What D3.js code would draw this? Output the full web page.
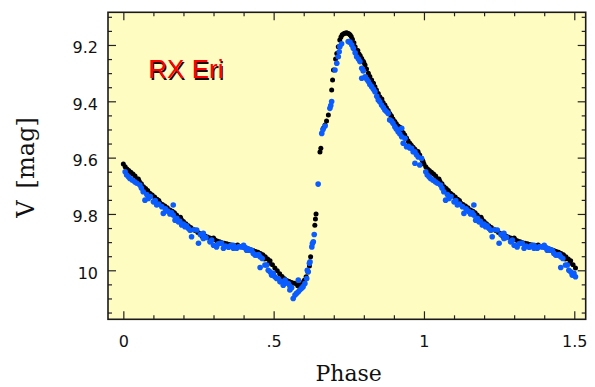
<!DOCTYPE html>
<html><head><meta charset="utf-8">
<script src="https://cdn.jsdelivr.net/npm/d3@7"></script>
<style>body{margin:0;background:#fff}</style>
</head><body><svg id="c" width="595" height="387"></svg>
<script>
// Black series (phase 0..1)
const blackPhase=[0.000,0.006,0.012,0.018,0.025,0.032,0.039,0.046,0.053,0.060,0.067,0.074,0.081,0.089,0.096,0.104,0.112,0.122,0.130,0.138,0.146,0.155,0.163,0.170,0.177,0.185,0.193,0.200,0.208,0.216,0.224,0.232,0.240,0.248,0.256,0.264,0.272,0.280,0.288,0.296,0.304,0.312,0.320,0.328,0.336,0.344,0.352,0.360,0.368,0.376,0.384,0.392,0.400,0.408,0.416,0.424,0.432,0.440,0.448,0.456,0.464,0.472,0.480,0.488,0.496,0.504,0.512,0.520,0.528,0.536,0.544,0.552,0.560,0.568,0.576,0.584,0.590,0.596,0.602,0.608,0.614,0.619,0.623,0.637,0.639,0.641,0.654,0.657,0.665,0.671,0.676,0.682,0.693,0.696,0.699,0.706,0.710,0.715,0.720,0.724,0.728,0.733,0.737,0.742,0.746,0.750,0.754,0.758,0.762,0.767,0.771,0.775,0.779,0.784,0.788,0.793,0.798,0.804,0.809,0.815,0.820,0.826,0.832,0.837,0.842,0.848,0.853,0.859,0.864,0.870,0.875,0.881,0.886,0.892,0.897,0.903,0.908,0.914,0.920,0.925,0.931,0.936,0.942,0.947,0.953,0.958,0.964,0.970,0.975,0.981,0.986,0.992,0.997,
0.020,0.050,0.085,0.118,0.150,0.190,0.228,0.262,0.300,0.340,0.380,0.420,0.452,0.470,0.485,0.545,0.580,0.600,0.780,0.800,0.830,0.860,0.890,0.920,0.950,0.980,0.995];
const blackMag=[9.623,9.632,9.640,9.646,9.652,9.658,9.665,9.676,9.684,9.693,9.703,9.710,9.717,9.727,9.733,9.740,9.748,9.761,9.766,9.772,9.778,9.786,9.790,9.796,9.804,9.812,9.820,9.827,9.835,9.842,9.848,9.854,9.860,9.866,9.870,9.874,9.878,9.882,9.885,9.889,9.892,9.896,9.899,9.902,9.904,9.906,9.908,9.910,9.912,9.913,9.915,9.916,9.918,9.921,9.924,9.927,9.930,9.933,9.936,9.940,9.945,9.952,9.960,9.966,9.980,9.992,10.002,10.012,10.022,10.030,10.036,10.040,10.043,10.046,10.048,10.051,10.053,10.048,10.035,10.023,10.006,9.985,9.952,9.840,9.818,9.800,9.580,9.567,9.496,9.484,9.470,9.449,9.360,9.324,9.289,9.250,9.230,9.206,9.182,9.172,9.164,9.160,9.158,9.157,9.158,9.160,9.164,9.170,9.180,9.192,9.206,9.218,9.226,9.232,9.238,9.248,9.258,9.271,9.285,9.300,9.312,9.324,9.336,9.348,9.360,9.372,9.384,9.395,9.404,9.413,9.423,9.433,9.443,9.453,9.463,9.472,9.480,9.488,9.496,9.504,9.512,9.520,9.530,9.540,9.549,9.556,9.563,9.570,9.577,9.584,9.591,9.602,9.614,
9.655,9.676,9.726,9.752,9.789,9.812,9.856,9.879,9.885,9.910,9.910,9.930,9.945,9.960,9.975,10.040,10.055,10.040,9.220,9.262,9.335,9.392,9.450,9.492,9.548,9.578,9.610];

// Blue series (phase 0..1)
const bluePhase=[0.006,0.011,0.017,0.022,0.030,0.038,0.045,0.055,0.060,0.066,0.072,0.078,0.083,0.090,0.100,0.106,0.111,0.118,0.128,0.133,0.140,0.148,0.155,0.160,0.166,0.166,0.172,0.178,0.183,0.188,0.194,0.200,0.205,0.210,0.216,0.222,0.227,0.235,0.244,0.250,0.256,0.266,0.266,0.275,0.288,0.294,0.300,0.310,0.316,0.322,0.327,0.333,0.340,0.350,0.357,0.366,0.366,0.372,0.377,0.385,0.394,0.400,0.405,0.410,0.410,0.416,0.421,0.427,0.432,0.438,0.444,0.450,0.455,0.455,0.462,0.471,0.477,0.482,0.488,0.493,0.499,0.504,0.510,0.516,0.521,0.527,0.532,0.538,0.543,0.549,0.554,0.554,0.560,0.565,0.571,0.576,0.582,0.582,0.587,0.593,0.598,0.604,0.610,0.612,0.615,0.619,0.621,0.627,0.629,0.632,0.635,0.648,0.660,0.664,0.671,0.687,0.690,0.693,0.704,0.710,0.715,0.718,0.720,0.726,0.748,0.754,0.760,0.765,0.771,0.776,0.782,0.787,0.793,0.793,0.798,0.804,0.810,0.815,0.820,0.826,0.832,0.837,0.843,0.848,0.853,0.859,0.865,0.870,0.876,0.881,0.886,0.892,0.897,0.903,0.908,0.914,0.920,0.926,0.926,0.931,0.937,0.942,0.948,0.953,0.959,0.964,0.970,0.970,0.975,0.981,0.986,0.992];
const blueMag=[9.650,9.662,9.668,9.674,9.680,9.686,9.691,9.697,9.708,9.721,9.751,9.731,9.745,9.738,9.757,9.752,9.768,9.765,9.774,9.798,9.782,9.790,9.800,9.795,9.768,9.804,9.822,9.815,9.828,9.826,9.839,9.836,9.845,9.842,9.851,9.858,9.881,9.856,9.857,9.904,9.873,9.887,9.869,9.884,9.899,9.893,9.911,9.917,9.906,9.904,9.904,9.922,9.914,9.918,9.912,9.911,9.922,9.918,9.922,9.916,9.917,9.911,9.920,9.922,9.929,9.925,9.929,9.929,9.940,9.946,9.946,9.944,9.952,9.990,9.958,9.981,9.981,10.000,10.005,10.017,10.011,10.023,10.029,10.030,10.041,10.041,10.053,10.035,10.045,10.047,10.056,10.070,10.062,10.100,10.088,10.082,10.076,10.035,10.070,10.064,10.058,10.047,10.029,10.000,10.005,9.975,9.970,9.917,9.905,9.899,9.873,9.694,9.514,9.500,9.488,9.425,9.415,9.401,9.289,9.265,9.242,9.224,9.206,9.196,9.188,9.190,9.200,9.212,9.228,9.242,9.250,9.259,9.283,9.318,9.292,9.313,9.322,9.330,9.340,9.348,9.357,9.366,9.382,9.395,9.402,9.413,9.422,9.431,9.437,9.443,9.466,9.470,9.478,9.490,9.498,9.508,9.516,9.526,9.496,9.549,9.531,9.561,9.560,9.566,9.567,9.579,9.579,9.620,9.590,9.598,9.626,9.603];

const xMajorTicks=[0,0.5,1,1.5];
const xMajorLabels=["0",".5","1","1.5"];
const xMinorTicks=[0.1,0.2,0.3,0.4,0.6,0.7,0.8,0.9,1.1,1.2,1.3,1.4];
const yMajorTicks=[9.2,9.4,9.6,9.8,10];
const yMajorLabels=["9.2","9.4","9.6","9.8","10"];
const yMinorTicks=[9.1,9.15,9.25,9.3,9.35,9.45,9.5,9.55,9.65,9.7,9.75,9.85,9.9,9.95,10.05,10.1,10.15];
const xDomain=[-0.051,1.538];
const yDomain=[9.084,10.174];
const titleText="RX Eri";
const xLabel="Phase";
const yLabelParts=["V","[mag]"];

const L=108,R=585.7,T=12.3,B=319.3;
const svg=d3.select("#c");
const x=d3.scaleLinear().domain(xDomain).range([L,R]);
const y=d3.scaleLinear().domain(yDomain).range([T,B]);

svg.append("rect").attr("x",L).attr("y",T).attr("width",R-L).attr("height",B-T).attr("fill","#fffcc2");

// fold: show phases 0..1.5
function expand(ph,mg){const out=[];ph.forEach((p,i)=>{out.push([p,mg[i]]);if(p+1<=1.505)out.push([p+1,mg[i]]);});return out;}
const blackPts=expand(blackPhase,blackMag);
const bluePts=expand(bluePhase,blueMag);

svg.append("g").selectAll("circle").data(blackPts).join("circle")
  .attr("cx",d=>x(d[0])).attr("cy",d=>y(d[1])).attr("r",2.5).attr("fill","#000");
svg.append("g").selectAll("circle").data(bluePts).join("circle")
  .attr("cx",d=>x(d[0])).attr("cy",d=>y(d[1])).attr("r",2.8).attr("fill","#0a5cff");

function styleAxis(g){g.select(".domain").remove();g.selectAll(".tick line").attr("stroke","#222").attr("stroke-width",1.2);}
// bottom
svg.append("g").attr("transform",`translate(0,${B})`)
  .call(d3.axisBottom(x).tickValues(xMajorTicks).tickSize(-8).tickPadding(16).tickFormat((d,i)=>xMajorLabels[i]))
  .call(styleAxis).call(g=>g.selectAll("text").attr("font-family","DejaVu Sans").attr("font-size",16).attr("fill","#111"));
svg.append("g").attr("transform",`translate(0,${B})`)
  .call(d3.axisBottom(x).tickValues(xMinorTicks).tickSize(-4).tickFormat(""))
  .call(styleAxis);
// top
svg.append("g").attr("transform",`translate(0,${T})`)
  .call(d3.axisTop(x).tickValues(xMajorTicks).tickSize(-8).tickFormat("")).call(styleAxis);
svg.append("g").attr("transform",`translate(0,${T})`)
  .call(d3.axisTop(x).tickValues(xMinorTicks).tickSize(-4).tickFormat("")).call(styleAxis);
// left
svg.append("g").attr("transform",`translate(${L},0)`)
  .call(d3.axisLeft(y).tickValues(yMajorTicks).tickSize(-8).tickPadding(10).tickFormat((d,i)=>yMajorLabels[i]))
  .call(styleAxis).call(g=>g.selectAll("text").attr("font-family","DejaVu Sans").attr("font-size",16).attr("fill","#111").attr("dy","0.5em"));
svg.append("g").attr("transform",`translate(${L},0)`)
  .call(d3.axisLeft(y).tickValues(yMinorTicks).tickSize(-4).tickFormat("")).call(styleAxis);
// right
svg.append("g").attr("transform",`translate(${R},0)`)
  .call(d3.axisRight(y).tickValues(yMajorTicks).tickSize(-8).tickFormat("")).call(styleAxis);
svg.append("g").attr("transform",`translate(${R},0)`)
  .call(d3.axisRight(y).tickValues(yMinorTicks).tickSize(-4).tickFormat("")).call(styleAxis);

svg.append("rect").attr("x",L).attr("y",T).attr("width",R-L).attr("height",B-T)
  .attr("fill","none").attr("stroke","#1a1a1a").attr("stroke-width",1.6);

// title with shadow
svg.append("text").attr("x",149.5).attr("y",79.5).attr("font-family","Liberation Sans").attr("font-size",26)
  .attr("fill","#1a0a0a").text(titleText);
svg.append("text").attr("x",148.3).attr("y",78.3).attr("font-family","Liberation Sans").attr("font-size",26)
  .attr("fill","#ff0000").text(titleText);

svg.append("text").attr("x",348.7).attr("y",381).attr("text-anchor","middle")
  .attr("font-family","DejaVu Serif").attr("font-size",22).attr("fill","#111").text(xLabel);
const yl=svg.append("text").attr("transform","translate(33.5,167.5) rotate(-90)").attr("text-anchor","middle")
  .attr("font-family","DejaVu Serif").attr("font-size",24).attr("fill","#111");
yl.append("tspan").text(yLabelParts[0]);
yl.append("tspan").attr("dx",12).text(yLabelParts[1]);
</script></body></html>
